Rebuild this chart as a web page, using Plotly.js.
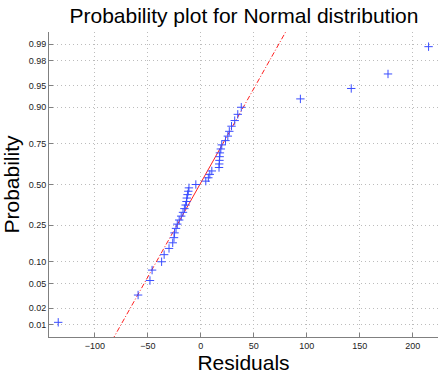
<!DOCTYPE html>
<html><head><meta charset="utf-8">
<script src="https://cdn.plot.ly/plotly-3.0.1.min.js"></script>
<style>body{margin:0;background:#fff}</style></head>
<body><div id="chart" style="width:442px;height:375px"></div>
<script>
// Sorted residuals
const residuals = [-134.6, -59.2, -48, -46, -37, -34.6, -30, -26.5, -25.3, -24.8,
  -23.4, -22.2, -20.4, -18.5, -16.8, -15.5, -14.3, -13.5, -13.2, -12.5,
  -11.8, -11.2, -4.7, 4.7, 7.1, 8.5, 10.4, 17.2, 17.4, 17.6,
  17.8, 18, 18.9, 19.8, 23.3, 25.5, 26.9, 29, 32, 34.9,
  38.2, 94, 142, 176.7, 215];
const probTicks = [0.01, 0.02, 0.05, 0.10, 0.25, 0.50, 0.75, 0.90, 0.95, 0.98, 0.99];
const probTickLabels = ['0.01', '0.02', '0.05', '0.10', '0.25', '0.50', '0.75', '0.90', '0.95', '0.98', '0.99'];
const xTicks = [-100, -50, 0, 50, 100, 150, 200];
const xTickLabels = ['\u2212100', '\u221250', '0', '50', '100', '150', '200'];

// inverse standard normal CDF (Acklam)
function norminv(p) {
  const a = [-3.969683028665376e+01, 2.209460984245205e+02, -2.759285104469687e+02, 1.383577518672690e+02, -3.066479806614716e+01, 2.506628277459239e+00];
  const b = [-5.447609879822406e+01, 1.615858368580409e+02, -1.556989798598866e+02, 6.680131188771972e+01, -1.328068155288572e+01];
  const c = [-7.784894002430293e-03, -3.223964580411365e-01, -2.400758277161838e+00, -2.549732539343734e+00, 4.374664141464968e+00, 2.938163982698783e+00];
  const d = [7.784695709041462e-03, 3.224671290700398e-01, 2.445134137142996e+00, 3.754408661907416e+00];
  const pl = 0.02425, ph = 1 - pl;
  let q, r;
  if (p < pl) { q = Math.sqrt(-2 * Math.log(p)); return (((((c[0]*q+c[1])*q+c[2])*q+c[3])*q+c[4])*q+c[5]) / ((((d[0]*q+d[1])*q+d[2])*q+d[3])*q+1); }
  if (p <= ph) { q = p - 0.5; r = q*q; return (((((a[0]*r+a[1])*r+a[2])*r+a[3])*r+a[4])*r+a[5])*q / (((((b[0]*r+b[1])*r+b[2])*r+b[3])*r+b[4])*r+1); }
  q = Math.sqrt(-2 * Math.log(1 - p)); return -(((((c[0]*q+c[1])*q+c[2])*q+c[3])*q+c[4])*q+c[5]) / ((((d[0]*q+d[1])*q+d[2])*q+d[3])*q+1);
}

const n = residuals.length;
const zPts = residuals.map((_, i) => norminv((i + 0.5) / n));
function prctile(p) {
  const pos = n * p + 0.5; const lo = Math.floor(pos); const f = pos - lo;
  return residuals[lo - 1] + f * (residuals[lo] - residuals[lo - 1]);
}
const q1 = prctile(0.25), q3 = prctile(0.75);
const z1 = norminv(0.25), z3 = norminv(0.75);
const slope = (z3 - z1) / (q3 - q1);
const zAt = x => z1 + slope * (x - q1);
const xmin = residuals[0], xmax = residuals[n - 1];

const traces = [
  { x: [xmin, q1], y: [zAt(xmin), z1], mode: 'lines', line: { color: '#ff2020', width: 1, dash: '5px,2px,1px,2px' }, hoverinfo: 'skip' },
  { x: [q3, xmax], y: [z3, zAt(xmax)], mode: 'lines', line: { color: '#ff2020', width: 1, dash: '5px,2px,1px,2px' }, hoverinfo: 'skip' },
  { x: [q1, q3], y: [z1, z3], mode: 'lines', line: { color: '#ff2020', width: 1 }, hoverinfo: 'skip' },
  { x: residuals, y: zPts, mode: 'markers', cliponaxis: false,
    marker: { symbol: 'cross-thin', size: 6, color: '#3a4dff', line: { color: '#3a4dff', width: 1 } } }
];

const font = 'Liberation Sans, Arial, sans-serif';
const layout = {
  width: 442, height: 375, showlegend: false,
  paper_bgcolor: '#fff', plot_bgcolor: '#fff',
  margin: { l: 49, r: 4, t: 32, b: 38 },
  font: { family: font, color: '#000' },
  title: { text: 'Probability plot for Normal distribution', font: { size: 21, family: font, color: '#000' },
    x: 0.552, xref: 'container', xanchor: 'center', y: 1 - 16 / 375, yref: 'container', yanchor: 'middle' },
  xaxis: {
    range: [-143.3, 223.9], tickvals: xTicks, ticktext: xTickLabels,
    ticks: 'inside', ticklen: 4, tickcolor: '#808080', tickfont: { size: 9, color: '#222' },
    showline: true, linecolor: '#808080', linewidth: 1, zeroline: false, mirror: false,
    showgrid: true, gridcolor: '#bcbcbc', griddash: '1px,3px', gridwidth: 1,
    title: { text: 'Residuals', font: { size: 21, family: font, color: '#000' }, standoff: 3 }
  },
  yaxis: {
    range: [-2.53, 2.53], tickvals: probTicks.map(norminv), ticktext: probTickLabels,
    ticks: 'inside', ticklen: 4, tickcolor: '#808080', tickfont: { size: 9, color: '#222' },
    showline: true, linecolor: '#808080', linewidth: 1, zeroline: false,
    showgrid: true, gridcolor: '#bcbcbc', griddash: '1px,3px', gridwidth: 1,
    title: { text: 'Probability', font: { size: 21, family: font, color: '#000' }, standoff: 5 }
  }
};
Plotly.newPlot('chart', traces, layout, { displayModeBar: false, staticPlot: true });
</script></body></html>
